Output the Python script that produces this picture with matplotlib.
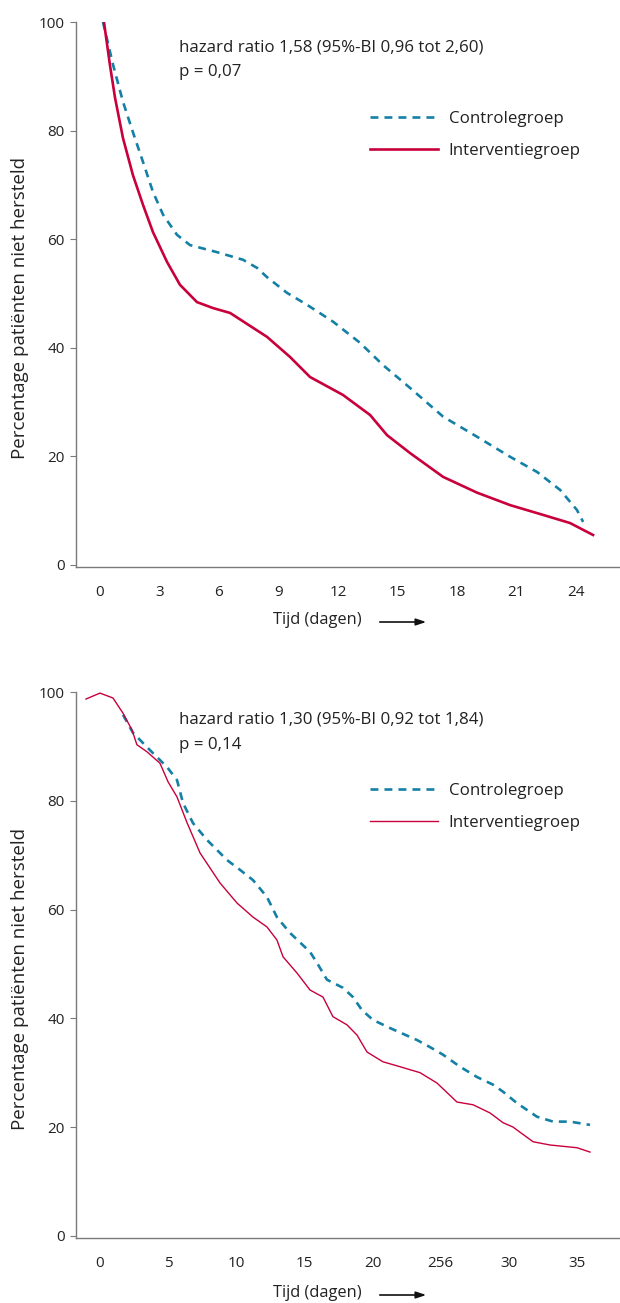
import matplotlib
matplotlib.use("Agg")
import matplotlib.pyplot as plt

# ---- data: bovenste grafiek (dagen, % niet hersteld) ----
top_ctrl_days = [0.15, 0.66, 1.16, 1.66, 2.17, 2.67, 3.18, 3.88, 4.54, 5.90, 7.21, 7.92,
                 8.42, 9.43, 10.44, 11.75, 13.11, 14.27, 15.63, 17.30, 19.01, 20.68,
                 22.04, 23.20, 24.05, 24.36]
top_ctrl_pct = [100, 92.1, 85.3, 79.7, 74.2, 68.7, 64.5, 60.8, 58.9, 57.6, 56.2, 54.7,
                53.0, 50.1, 47.9, 44.8, 40.9, 36.8, 32.6, 27.3, 23.6, 19.9, 17.1, 13.8,
                10.1, 7.9]
top_int_days = [0.2, 0.50, 0.76, 1.16, 1.66, 2.17, 2.67, 3.38, 4.03, 4.89, 5.70, 6.56,
                8.42, 9.58, 10.59, 12.25, 13.62, 14.47, 15.63, 17.30, 19.01, 20.68,
                22.34, 23.70, 24.86]
top_int_pct = [100, 92.1, 86.0, 78.6, 71.8, 66.3, 61.3, 55.8, 51.6, 48.4, 47.3, 46.4,
               42.0, 38.3, 34.6, 31.3, 27.6, 23.9, 20.6, 16.2, 13.3, 11.0, 9.2, 7.7, 5.5]
top_xticks = [0, 3, 6, 9, 12, 15, 18, 21, 24]

# ---- data: onderste grafiek ----
bot_ctrl_days = [1.69, 2.42, 3.67, 4.92, 5.65, 6.09, 6.82, 7.85, 9.32, 10.27, 11.23, 12.25,
                 12.98, 13.94, 15.41, 15.92, 16.65, 17.83, 18.56, 19.22, 20.03, 21.28,
                 23.26, 24.21, 25.17, 26.41, 27.66, 28.83, 29.57, 30.59, 32.06, 33.24,
                 34.48, 35.95]
bot_ctrl_pct = [95.8, 92.5, 89.3, 86.2, 83.8, 79.6, 75.9, 72.8, 69.1, 67.3, 65.4, 62.3,
                58.6, 55.7, 52.2, 50.2, 47.1, 45.6, 43.9, 41.5, 39.7, 38.2, 36.0, 34.7,
                33.3, 31.1, 29.2, 27.8, 26.5, 24.4, 21.9, 21.0, 21.0, 20.4]
bot_int_days = [-1.03, 0, 0.95, 1.69, 2.35, 2.71, 3.45, 4.40, 4.99, 5.65, 6.38, 7.34,
                8.80, 10.05, 11.23, 12.25, 12.98, 13.43, 14.46, 15.41, 16.36, 17.09,
                18.12, 18.86, 19.59, 20.76, 22.01, 23.48, 24.72, 26.19, 27.37, 28.61,
                29.57, 30.30, 31.77, 33.02, 35.00, 35.95]
bot_int_pct = [98.7, 99.8, 98.9, 96.1, 93.0, 90.3, 89.0, 86.9, 83.5, 80.7, 76.0, 70.4,
               64.9, 61.2, 58.6, 56.8, 54.4, 51.3, 48.3, 45.2, 43.9, 40.3, 38.8, 36.9,
               33.8, 32.0, 31.1, 30.0, 28.1, 24.6, 24.1, 22.6, 20.8, 20.0, 17.3, 16.7,
               16.2, 15.4]
bot_xticks = [0, 5, 10, 15, 20, 25, 30, 35]
bot_xlabels = ["0", "5", "10", "15", "20", "256", "30", "35"]

yticks = [0, 20, 40, 60, 80, 100]

# ---- stijl ----
BLUE = "#1580a6"
RED = "#c8003c"
GREY = "#7a7a7a"
TXT = "#222222"
plt.rcParams["font.family"] = ["Open Sans", "DejaVu Sans"]

W, H = 620, 1303
fig = plt.figure(figsize=(W / 100, H / 100), dpi=100)


def fx(px):
    return px / W


def fy(py):
    return 1 - py / H


def make_axes(top_px, bot_px):
    ax = fig.add_axes([fx(76), fy(bot_px), 1 - fx(76), fy(top_px) - fy(bot_px)])
    for s in ["top", "right"]:
        ax.spines[s].set_visible(False)
    for s in ["left", "bottom"]:
        ax.spines[s].set_color(GREY)
        ax.spines[s].set_linewidth(1.0)
    ax.set_ylim(-0.4, 100)
    ax.set_yticks(yticks)
    ax.tick_params(axis="y", length=4, width=0.8, color=GREY, pad=4,
                   labelsize=11, labelcolor=TXT)
    ax.tick_params(axis="x", length=0, pad=13, labelsize=11, labelcolor=TXT)
    ax.set_ylabel("Percentage patiënten niet hersteld", fontsize=13.5, color=TXT)
    ax.yaxis.set_label_coords(-0.086, 0.475)
    return ax


def annotate(ax, y_hr, y_p, hr_text, p_text, y_leg, y_xlabel):
    fig.text(fx(179), fy(y_hr), hr_text, fontsize=12.2, color=TXT, va="center")
    fig.text(fx(179), fy(y_p), p_text, fontsize=12.2, color=TXT, va="center")
    ax.legend(loc="upper left", bbox_to_anchor=(fx(370), fy(y_leg)),
              bbox_transform=fig.transFigure, frameon=False, fontsize=12.2,
              handlelength=4.0, handletextpad=0.65, labelspacing=0.95,
              borderpad=0, borderaxespad=0, labelcolor=TXT)
    fig.text(fx(317), fy(y_xlabel), "Tijd (dagen)", fontsize=11.8, color=TXT,
             ha="center", va="center")
    fig.add_artist(matplotlib.patches.FancyArrowPatch(
        (fx(377), fy(y_xlabel + 2)), (fx(429), fy(y_xlabel + 2)),
        transform=fig.transFigure, arrowstyle="-|>,head_length=6,head_width=2",
        color="#111111", lw=1.2, mutation_scale=1))


# ---- bovenste grafiek ----
ax1 = make_axes(22, 567)
ax1.set_xlim(-1.21, 26.22)
ax1.set_xticks(top_xticks)
ax1.plot(top_ctrl_days, top_ctrl_pct, color=BLUE, lw=1.9, dashes=(3.0, 2.3),
         label="Controlegroep")
ax1.plot(top_int_days, top_int_pct, color=RED, lw=1.9, label="Interventiegroep",
         solid_joinstyle="round")
annotate(ax1, 48, 72, "hazard ratio 1,58 (95%-BI 0,96 tot 2,60)", "p = 0,07", 111, 620)

# ---- onderste grafiek ----
ax2 = make_axes(692, 1238)
ax2.set_xlim(-1.76, 38.15)
ax2.set_xticks(bot_xticks)
ax2.set_xticklabels(bot_xlabels)
ax2.plot(bot_ctrl_days, bot_ctrl_pct, color=BLUE, lw=1.9, dashes=(3.0, 2.3),
         label="Controlegroep")
ax2.plot(bot_int_days, bot_int_pct, color=RED, lw=1.0, label="Interventiegroep",
         solid_joinstyle="round")
annotate(ax2, 720, 745, "hazard ratio 1,30 (95%-BI 0,92 tot 1,84)", "p = 0,14", 783, 1293)

fig.savefig("out.png", dpi=100)
